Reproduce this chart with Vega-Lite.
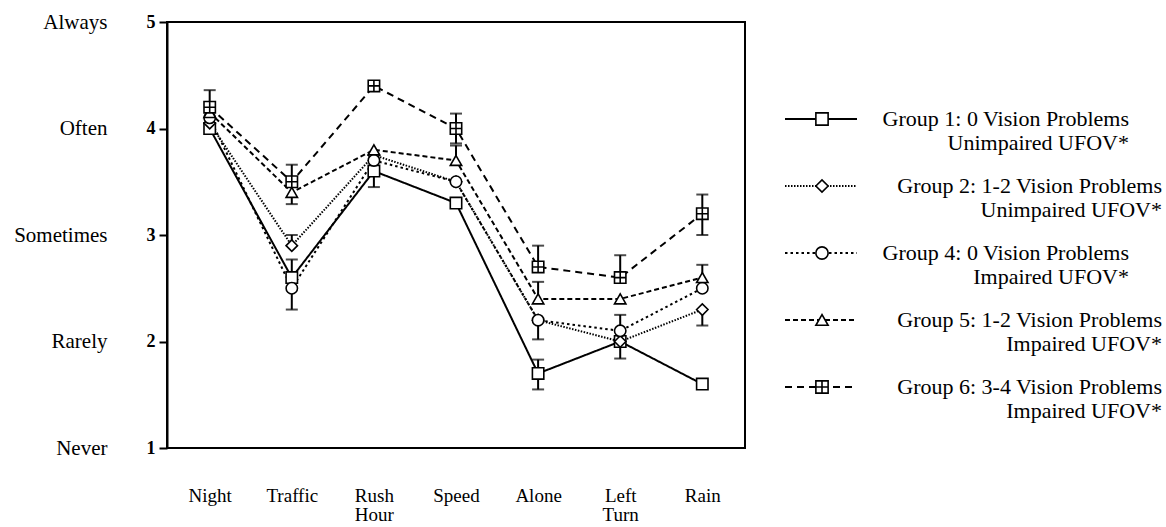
{
  "$schema": "https://vega.github.io/schema/vega-lite/v6.json",
  "padding": {"top": 10, "left": 12, "right": 0, "bottom": 0},
  "config": {"font": "Liberation Serif", "view": {"stroke": null}, "concat": {"spacing": 38}},
  "datasets": {
    "means": [
      {"cat": "Night", "group": "Group 1", "v": 4.0},
      {"cat": "Night", "group": "Group 2", "v": 4.05},
      {"cat": "Night", "group": "Group 4", "v": 4.1},
      {"cat": "Night", "group": "Group 5", "v": 4.15},
      {"cat": "Night", "group": "Group 6", "v": 4.2},
      {"cat": "Traffic", "group": "Group 1", "v": 2.6},
      {"cat": "Traffic", "group": "Group 2", "v": 2.9},
      {"cat": "Traffic", "group": "Group 4", "v": 2.5},
      {"cat": "Traffic", "group": "Group 5", "v": 3.4},
      {"cat": "Traffic", "group": "Group 6", "v": 3.5},
      {"cat": "Rush Hour", "group": "Group 1", "v": 3.6},
      {"cat": "Rush Hour", "group": "Group 2", "v": 3.75},
      {"cat": "Rush Hour", "group": "Group 4", "v": 3.7},
      {"cat": "Rush Hour", "group": "Group 5", "v": 3.8},
      {"cat": "Rush Hour", "group": "Group 6", "v": 4.4},
      {"cat": "Speed", "group": "Group 1", "v": 3.3},
      {"cat": "Speed", "group": "Group 2", "v": 3.5},
      {"cat": "Speed", "group": "Group 4", "v": 3.5},
      {"cat": "Speed", "group": "Group 5", "v": 3.7},
      {"cat": "Speed", "group": "Group 6", "v": 4.0},
      {"cat": "Alone", "group": "Group 1", "v": 1.7},
      {"cat": "Alone", "group": "Group 2", "v": 2.2},
      {"cat": "Alone", "group": "Group 4", "v": 2.2},
      {"cat": "Alone", "group": "Group 5", "v": 2.4},
      {"cat": "Alone", "group": "Group 6", "v": 2.7},
      {"cat": "Left Turn", "group": "Group 1", "v": 2.0},
      {"cat": "Left Turn", "group": "Group 2", "v": 2.0},
      {"cat": "Left Turn", "group": "Group 4", "v": 2.1},
      {"cat": "Left Turn", "group": "Group 5", "v": 2.4},
      {"cat": "Left Turn", "group": "Group 6", "v": 2.6},
      {"cat": "Rain", "group": "Group 1", "v": 1.6},
      {"cat": "Rain", "group": "Group 2", "v": 2.3},
      {"cat": "Rain", "group": "Group 4", "v": 2.5},
      {"cat": "Rain", "group": "Group 5", "v": 2.6},
      {"cat": "Rain", "group": "Group 6", "v": 3.2}
    ],
    "errs": [
      {"cat": "Night", "group": "Group 6", "v": 4.2, "e": 4.36},
      {"cat": "Traffic", "group": "Group 6", "v": 3.5, "e": 3.66},
      {"cat": "Traffic", "group": "Group 5", "v": 3.4, "e": 3.29},
      {"cat": "Traffic", "group": "Group 2", "v": 2.9, "e": 3.0},
      {"cat": "Traffic", "group": "Group 1", "v": 2.6, "e": 2.77},
      {"cat": "Traffic", "group": "Group 4", "v": 2.5, "e": 2.3},
      {"cat": "Rush Hour", "group": "Group 1", "v": 3.6, "e": 3.45},
      {"cat": "Speed", "group": "Group 6", "v": 4.0, "e": 4.14},
      {"cat": "Speed", "group": "Group 6", "v": 4.0, "e": 3.86},
      {"cat": "Speed", "group": "Group 5", "v": 3.7, "e": 3.84},
      {"cat": "Alone", "group": "Group 6", "v": 2.7, "e": 2.9},
      {"cat": "Alone", "group": "Group 5", "v": 2.4, "e": 2.56},
      {"cat": "Alone", "group": "Group 4", "v": 2.2, "e": 2.02},
      {"cat": "Alone", "group": "Group 1", "v": 1.7, "e": 1.83},
      {"cat": "Alone", "group": "Group 1", "v": 1.7, "e": 1.55},
      {"cat": "Left Turn", "group": "Group 6", "v": 2.6, "e": 2.81},
      {"cat": "Left Turn", "group": "Group 4", "v": 2.1, "e": 2.25},
      {"cat": "Left Turn", "group": "Group 1", "v": 2.0, "e": 1.84},
      {"cat": "Rain", "group": "Group 6", "v": 3.2, "e": 3.38},
      {"cat": "Rain", "group": "Group 6", "v": 3.2, "e": 3.0},
      {"cat": "Rain", "group": "Group 5", "v": 2.6, "e": 2.72},
      {"cat": "Rain", "group": "Group 2", "v": 2.3, "e": 2.15}
    ],
    "scalewords": [
      {"v": 1, "label": "Never"},
      {"v": 2, "label": "Rarely"},
      {"v": 3, "label": "Sometimes"},
      {"v": 4, "label": "Often"},
      {"v": 5, "label": "Always"}
    ],
    "groups": [
      {"group": "Group 1", "kind": "zero", "line1": "Group 1:  0 Vision Problems", "line2": "Unimpaired UFOV*"},
      {"group": "Group 2", "kind": "some", "line1": "Group 2:  1-2 Vision Problems", "line2": "Unimpaired UFOV*"},
      {"group": "Group 4", "kind": "zero", "line1": "Group 4:  0 Vision Problems", "line2": "Impaired UFOV*"},
      {"group": "Group 5", "kind": "some", "line1": "Group 5:  1-2 Vision Problems", "line2": "Impaired UFOV*"},
      {"group": "Group 6", "kind": "some", "line1": "Group 6:  3-4 Vision Problems", "line2": "Impaired UFOV*"}
    ]
  },
  "hconcat": [
    {
      "width": 578,
      "height": 426,
      "view": {"stroke": "black", "strokeWidth": 2},
      "layer": [
        {
          "encoding": {
            "x": {
              "field": "cat", "type": "nominal",
              "sort": ["Night", "Traffic", "Rush Hour", "Speed", "Alone", "Left Turn", "Rain"],
              "scale": {"type": "point", "padding": 0.52},
              "axis": {"title": null, "domain": false, "ticks": false, "tickSize": 0, "labelAngle": 0, "labelPadding": 38, "labelFontSize": 19, "labelColor": "black", "labelLineHeight": 19, "labelExpr": "split(datum.label, ' ')", "grid": false}
            },
            "y": {
              "field": "v", "type": "quantitative", "title": null,
              "scale": {"domain": [1, 5], "nice": false, "zero": false},
              "axis": {"values": [1, 2, 3, 4, 5], "format": "d", "grid": false, "domainColor": "black", "domainWidth": 2, "tickColor": "black", "tickWidth": 2, "tickSize": 8, "labelPadding": 4, "labelFontSize": 18, "labelFontWeight": "bold", "labelColor": "black"}
            }
          },
          "layer": [
            {
              "data": {"name": "means"},
              "mark": {"type": "line", "color": "black", "strokeWidth": 2},
              "encoding": {
                "detail": {"field": "group"},
                "strokeDash": {"field": "group", "type": "nominal", "legend": null,
                  "scale": {"domain": ["Group 1", "Group 2", "Group 4", "Group 5", "Group 6"], "range": [[1, 0], [1.5, 1.5], [2.5, 3], [5, 3], [7, 5]]}}
              }
            },
            {
              "data": {"name": "errs"},
              "mark": {"type": "rule", "color": "black", "strokeWidth": 2},
              "encoding": {"y2": {"field": "e"}}
            },
            {
              "data": {"name": "errs"},
              "mark": {"type": "tick", "color": "black", "thickness": 2, "size": 12},
              "encoding": {"y": {"field": "e", "type": "quantitative", "title": null}}
            },
            {
              "data": {"name": "means"},
              "mark": {"type": "point", "filled": true, "fill": "white", "stroke": "black", "strokeWidth": 1.6, "size": 130, "opacity": 1},
              "encoding": {
                "shape": {"field": "group", "type": "nominal", "legend": null,
                  "scale": {"domain": ["Group 1", "Group 2", "Group 4", "Group 5", "Group 6"], "range": ["square", "diamond", "circle", "triangle-up", "M-1,-1H1V1H-1ZM-1,0H1M0,-1V1"]}}
              }
            }
          ]
        },
        {
          "data": {"name": "scalewords"},
          "mark": {"type": "point", "opacity": 0},
          "encoding": {
            "y": {
              "field": "v", "type": "quantitative", "title": null,
              "scale": {"domain": [1, 5], "nice": false, "zero": false},
              "axis": {"orient": "left", "values": [1, 2, 3, 4, 5], "labelExpr": "['', 'Never', 'Rarely', 'Sometimes', 'Often', 'Always'][datum.value]", "domain": false, "ticks": false, "grid": false, "labelPadding": 60, "labelFontSize": 21, "labelColor": "black"}
            }
          }
        }
      ],
      "resolve": {"scale": {"y": "independent"}}
    },
    {
      "width": 378,
      "height": 426,
      "data": {"name": "groups"},
      "encoding": {
        "y": {"field": "group", "type": "nominal", "scale": {"type": "point", "padding": 0, "range": [97, 365]}, "axis": null}
      },
      "layer": [
        {
          "mark": {"type": "rule", "color": "black", "strokeWidth": 2},
          "encoding": {
            "x": {"datum": 0, "type": "quantitative", "scale": {"domain": [0, 378], "nice": false, "zero": false}, "axis": null},
            "x2": {"datum": 72},
            "strokeDash": {"field": "group", "type": "nominal", "legend": null,
              "scale": {"domain": ["Group 1", "Group 2", "Group 4", "Group 5", "Group 6"], "range": [[1, 0], [1.5, 1.5], [2.5, 3], [5, 3], [7, 5]]}}
          }
        },
        {
          "mark": {"type": "point", "filled": true, "fill": "white", "stroke": "black", "strokeWidth": 1.6, "size": 150, "opacity": 1},
          "encoding": {
            "x": {"datum": 37, "type": "quantitative"},
            "shape": {"field": "group", "type": "nominal", "legend": null,
              "scale": {"domain": ["Group 1", "Group 2", "Group 4", "Group 5", "Group 6"], "range": ["square", "diamond", "circle", "triangle-up", "M-1,-1H1V1H-1ZM-1,0H1M0,-1V1"]}}
          }
        },
        {
          "transform": [{"filter": "datum.kind == 'zero'"}],
          "mark": {"type": "text", "align": "right", "baseline": "middle", "fontSize": 22, "color": "black"},
          "encoding": {
            "x": {"datum": 344, "type": "quantitative"},
            "text": {"field": "line1"}
          }
        },
        {
          "transform": [{"filter": "datum.kind == 'zero'"}],
          "mark": {"type": "text", "align": "right", "baseline": "middle", "fontSize": 22, "color": "black", "dy": 24},
          "encoding": {
            "x": {"datum": 344, "type": "quantitative"},
            "text": {"field": "line2"}
          }
        },
        {
          "transform": [{"filter": "datum.kind == 'some'"}],
          "mark": {"type": "text", "align": "right", "baseline": "middle", "fontSize": 22, "color": "black"},
          "encoding": {
            "x": {"datum": 377, "type": "quantitative"},
            "text": {"field": "line1"}
          }
        },
        {
          "transform": [{"filter": "datum.kind == 'some'"}],
          "mark": {"type": "text", "align": "right", "baseline": "middle", "fontSize": 22, "color": "black", "dy": 24},
          "encoding": {
            "x": {"datum": 377, "type": "quantitative"},
            "text": {"field": "line2"}
          }
        }
      ]
    }
  ]
}
